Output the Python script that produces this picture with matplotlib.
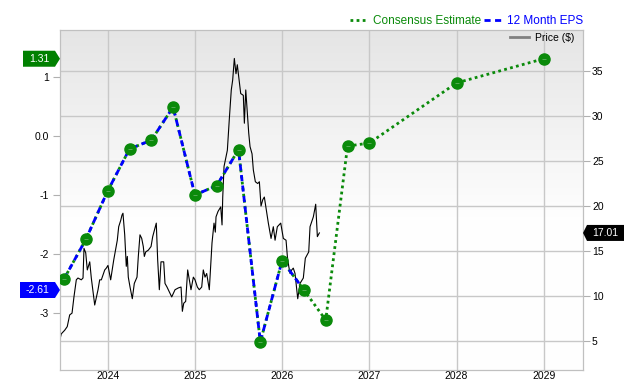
import numpy as np
import matplotlib
matplotlib.use("Agg")
import matplotlib.pyplot as plt
from matplotlib.patches import Polygon
from matplotlib.lines import Line2D
from matplotlib.transforms import IdentityTransform

plt.rcParams['font.family'] = ['Liberation Sans', 'DejaVu Sans']

# ---------------- data ----------------
eps_dates = [2023.5, 2023.75, 2024.0, 2024.25, 2024.5, 2024.75, 2025.0,
             2025.25, 2025.5, 2025.75, 2026.0, 2026.25]
eps_values = [-2.42, -1.75, -0.93, -0.22, -0.07, 0.49, -1.00,
              -0.84, -0.23, -3.49, -2.11, -2.61]

est_dates = [2026.25, 2026.5, 2026.75, 2027.0, 2028.0, 2029.0]
est_values = [-2.61, -3.12, -0.17, -0.12, 0.90, 1.31]

price_dates = [2023.450, 2023.468, 2023.507, 2023.536, 2023.564, 2023.591, 2023.613,
               2023.640, 2023.659, 2023.697, 2023.717, 2023.728, 2023.748, 2023.766,
               2023.794, 2023.812, 2023.851, 2023.869, 2023.889, 2023.908, 2023.927,
               2023.966, 2023.984, 2024.003, 2024.034, 2024.069, 2024.110, 2024.126,
               2024.149, 2024.164, 2024.175, 2024.195, 2024.213, 2024.225, 2024.236,
               2024.256, 2024.282, 2024.305, 2024.336, 2024.351, 2024.370, 2024.390,
               2024.408, 2024.420, 2024.436, 2024.466, 2024.497, 2024.516, 2024.557,
               2024.573, 2024.592, 2024.611, 2024.642, 2024.657, 2024.680, 2024.714,
               2024.734, 2024.772, 2024.810, 2024.841, 2024.856, 2024.872, 2024.894,
               2024.917, 2024.955, 2024.982, 2025.001, 2025.028, 2025.050, 2025.078,
               2025.096, 2025.116, 2025.135, 2025.165, 2025.181, 2025.196, 2025.219,
               2025.234, 2025.242, 2025.265, 2025.296, 2025.311, 2025.319, 2025.334,
               2025.357, 2025.372, 2025.394, 2025.417, 2025.433, 2025.452, 2025.471,
               2025.486, 2025.525, 2025.555, 2025.567, 2025.583, 2025.617, 2025.632,
               2025.655, 2025.670, 2025.693, 2025.720, 2025.739, 2025.758, 2025.778,
               2025.796, 2025.842, 2025.873, 2025.899, 2025.919, 2025.945, 2025.984,
               2026.014, 2026.045, 2026.060, 2026.076, 2026.091, 2026.110, 2026.128,
               2026.148, 2026.179, 2026.205, 2026.243, 2026.266, 2026.305, 2026.320,
               2026.358, 2026.385, 2026.404, 2026.427]
price_values = [5.1, 5.8, 6.2, 6.6, 7.9, 8.1, 9.9,
                11.8, 12.0, 11.8, 12.0, 15.3, 14.8, 12.9,
                13.8, 12.0, 9.0, 9.8, 10.7, 11.8, 11.8,
                12.9, 13.1, 13.4, 11.8, 14.0, 16.2, 17.7,
                18.4, 19.0, 19.2, 16.8, 13.3, 14.4, 12.1,
                11.0, 9.7, 11.4, 12.1, 14.4, 16.8, 16.4,
                15.5, 14.4, 14.9, 15.1, 15.5, 16.6, 18.1,
                14.0, 10.7, 13.8, 13.8, 11.4, 11.0, 10.3,
                9.9, 10.7, 10.9, 11.0, 8.3, 9.2, 9.4,
                12.9, 10.7, 12.1, 11.8, 11.0, 10.7, 11.0,
                12.9, 12.1, 12.5, 10.7, 13.3, 15.9, 18.1,
                17.1, 18.8, 19.4, 19.9, 17.9, 21.0, 24.4,
                25.5, 26.2, 29.6, 32.9, 34.0, 36.4, 34.7,
                35.7, 32.5, 32.3, 29.2, 32.9, 28.1, 26.6,
                25.8, 24.0, 22.7, 22.5, 22.7, 20.0, 20.7,
                21.0, 18.1, 16.4, 17.7, 16.2, 17.7, 18.1,
                16.4, 16.2, 14.4, 13.3, 12.5, 12.9, 13.1,
                12.5, 9.7, 11.4, 12.0, 14.2, 14.9, 17.7,
                18.8, 20.2, 16.6, 17.01]

year_ticks = [2024, 2025, 2026, 2027, 2028, 2029]
year_labels = ['2024', '2025', '2026', '2027', '2028', '2029']
eps_ticks = [-3, -2, -1, 0, 1]
eps_tick_labels = ['-3', '-2', '-1', '0.0', '1']
price_ticks = [5, 10, 15, 20, 25, 30, 35]
price_tick_labels = ['5', '10', '15', '20', '25', '30', '35']

last_eps_label = '-2.61'
last_est_label = '1.31'
last_price_label = '17.01'

# ---------------- styling ----------------
GREEN = '#0a8a0a'
BLUE = '#0000ff'
GRID = '#c8c8c8'

W, H = 640, 380
fig = plt.figure(figsize=(W / 100, H / 100), dpi=100)
axp = fig.add_axes([60 / W, 10 / H, 523 / W, 340 / H])

# background gradient
grad = np.concatenate([np.linspace(0.895, 1.0, 60), np.ones(40)]).reshape(-1, 1)
grad = np.clip(grad, 0, 0.995)
axp.imshow(grad, extent=[0, 1, 0, 1], transform=axp.transAxes, aspect='auto',
           cmap='gray', vmin=0, vmax=1, zorder=0, interpolation='bilinear')

axp.plot(price_dates, price_values, color='black', lw=0.8, zorder=2)
axp.set_xlim(2023.453, 2029.45)
axp.set_ylim(1.78, 39.56)

axe = axp.twinx()
axp.yaxis.tick_right()
axp.yaxis.set_label_position('right')
axe.yaxis.tick_left()
axe.yaxis.set_label_position('left')

axp.set_yticks(price_ticks)
axp.set_yticklabels(price_tick_labels)
axp.set_xticks(year_ticks)
axp.set_xticklabels(year_labels)
axp.grid(True, color=GRID, lw=1)
axp.set_axisbelow(True)
axp.tick_params(axis='x', length=0, pad=0.8, labelsize=7.5)
axp.tick_params(axis='y', length=5, width=0.8, color='#b0b0b0', pad=1.5, labelsize=7.5)
for s in axp.spines.values():
    s.set_color('#c0c0c0')

axe.set_ylim(-3.966, 1.797)
axe.set_yticks(eps_ticks)
axe.set_yticklabels(eps_tick_labels)
axe.tick_params(axis='y', length=5, width=0.8, color='#b0b0b0', pad=3, labelsize=7.5)
for s in axe.spines.values():
    s.set_color('#c0c0c0')

all_dates = eps_dates + est_dates[1:]
all_values = eps_values + est_values[1:]
axe.plot(all_dates, all_values, color=GREEN, ls=(0, (1, 1.2)), lw=2, zorder=3)
axe.plot(eps_dates, eps_values, color=BLUE, ls=(0, (2.2, 1.6)), lw=2, zorder=4)
axe.plot(all_dates, all_values, ls='none', marker='o', ms=8, color=GREEN,
         mec=GREEN, zorder=5)
axe.plot(all_dates, all_values, ls='none', marker='_', ms=2.5, mew=0.6,
         color='#5fae5f', zorder=6)

# price legend inside
axe.legend(handles=[Line2D([], [], color='#808080', lw=2)], labels=['Price ($)'],
           loc='upper right', bbox_to_anchor=((574 - 60) / 523, (370 - 33) / 340),
           frameon=False, fontsize=7.5, handlelength=1.9, handletextpad=0.5,
           borderpad=0, borderaxespad=0)

# top legend
leg = fig.legend(handles=[Line2D([], [], color=GREEN, ls=(0, (1, 1.2)), lw=2),
                          Line2D([], [], color=BLUE, ls=(0, (2.2, 1.6)), lw=2)],
                 labels=['Consensus Estimate', '12 Month EPS'], ncol=2,
                 loc='center right', bbox_to_anchor=(583 / W, (H - 21) / H),
                 frameon=False, fontsize=8.5, handlelength=1.5, handletextpad=0.45,
                 columnspacing=0.25, borderpad=0, borderaxespad=0)
for t, c in zip(leg.get_texts(), [GREEN, BLUE]):
    t.set_color(c)

# value flags
fig.canvas.draw()
ident = IdentityTransform()


def flag(ax, yval, text, color, side, width):
    x0, x1 = ax.bbox.x0, ax.bbox.x1
    y = ax.transData.transform((2025, yval))[1]
    h = 8
    if side == 'left':
        tip = x0
        pts = [(tip - 5 - width, y - h), (tip - 5, y - h), (tip, y), (tip - 5, y + h),
               (tip - 5 - width, y + h)]
        cx = tip - 5 - width / 2
    else:
        tip = x1
        pts = [(tip + 4 + width, y - h), (tip + 4, y - h), (tip, y), (tip + 4, y + h),
               (tip + 4 + width, y + h)]
        cx = tip + 4 + width / 2
    fig.patches.append(Polygon(pts, closed=True, transform=ident, facecolor=color,
                               edgecolor='none', figure=fig))
    fig.text(cx, y, text, transform=ident, color='white', fontsize=7.5,
             ha='center', va='center')


flag(axe, est_values[-1], last_est_label, '#008000', 'left', 32)
flag(axe, eps_values[-1], last_eps_label, BLUE, 'left', 35)
flag(axp, price_values[-1], last_price_label, 'black', 'right', 37)

fig.savefig('out.png', dpi=100)
